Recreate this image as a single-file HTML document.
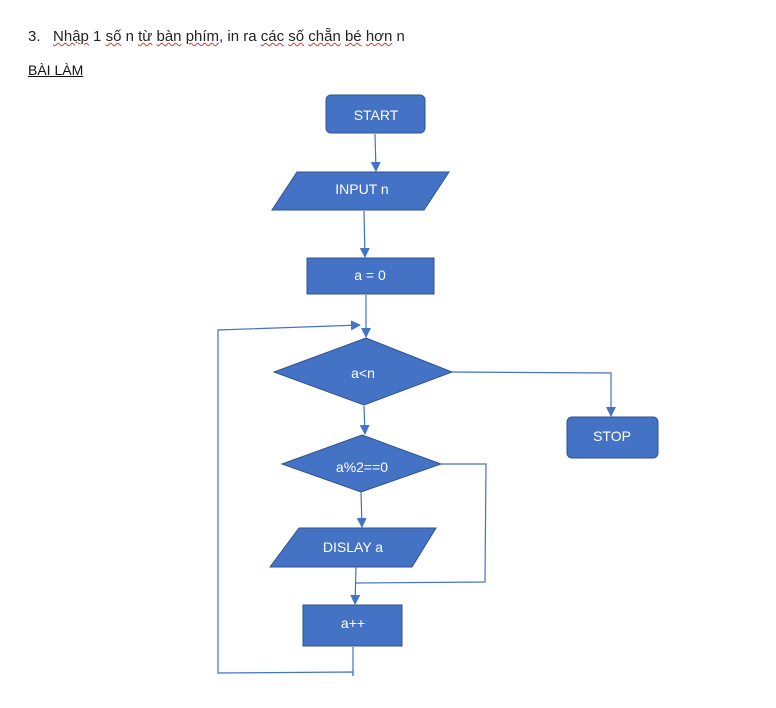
<!DOCTYPE html>
<html><head><meta charset="utf-8"><style>
html,body{margin:0;padding:0;background:#fff;}
body{width:776px;height:708px;overflow:hidden;position:relative;font-family:"Liberation Sans",Arial,sans-serif;}
.t1{position:absolute;left:28px;top:28px;font-size:15px;color:#222;}
.t2{position:absolute;left:28px;top:62px;font-size:14px;color:#111;text-decoration:underline;}
.sq{text-decoration:underline wavy #d33;text-decoration-thickness:1px;}
svg{position:absolute;left:0;top:0;}
</style></head><body>
<div class="t1">3.&nbsp;&nbsp;&nbsp;<span class="sq">Nhập</span> 1 <span class="sq">số</span> n <span class="sq">từ</span> <span class="sq">bàn</span> <span class="sq">phím</span>, in ra <span class="sq">các</span> <span class="sq">số</span> <span class="sq">chẵn</span> <span class="sq">bé</span> <span class="sq">hơn</span> n</div>
<div class="t2">BÀI LÀM</div>
<svg width="776" height="708" viewBox="0 0 776 708">
<defs><marker id="a" markerWidth="10" markerHeight="10" refX="9" refY="5" orient="auto" markerUnits="userSpaceOnUse"><path d="M0,0 L10,5 L0,10 z" fill="#4472C4"/></marker></defs>
<g fill="#4472C4" stroke="#2F528F" stroke-width="1">
<rect x="326" y="95" width="99" height="38" rx="5"/>
<polygon points="297,172 449,172 424,210 272,210"/>
<rect x="307" y="258" width="127" height="36"/>
<polygon points="274,372 366,338 452,372 364,405"/>
<rect x="567" y="417" width="91" height="41" rx="5"/>
<polygon points="282,464 362,435 441,464 361,492"/>
<polygon points="299,528 436,528 412,567 270,567"/>
<rect x="303" y="605" width="99" height="41"/>
</g>
<g fill="none" stroke="#4472C4" stroke-width="1.2">
<line x1="375" y1="134" x2="376" y2="171" marker-end="url(#a)"/>
<line x1="364" y1="211" x2="365" y2="257" marker-end="url(#a)"/>
<line x1="366" y1="295" x2="366" y2="337" marker-end="url(#a)"/>
<polyline points="353,676 353,672 218,673 218,330 360,325" marker-end="url(#a)"/>
<polyline points="452,372 611,373 611,416" marker-end="url(#a)"/>
<line x1="364" y1="406" x2="365" y2="434" marker-end="url(#a)"/>
<polyline points="441,464 486,464 485,582 356,583"/>
<line x1="361" y1="492" x2="362" y2="527" marker-end="url(#a)"/>
<line x1="356" y1="567" x2="355" y2="604" marker-end="url(#a)"/>
<line x1="353" y1="647" x2="353" y2="676"/>
</g>
<g fill="#fff" font-family="Liberation Sans, sans-serif" font-size="14" text-anchor="middle">
<text x="376" y="120">START</text>
<text x="362" y="194">INPUT n</text>
<text x="370" y="280">a = 0</text>
<text x="363" y="378">a&lt;n</text>
<text x="612" y="441">STOP</text>
<text x="362" y="472">a%2==0</text>
<text x="353" y="552">DISLAY a</text>
<text x="353" y="628">a++</text>
</g>
</svg>
</body></html>
